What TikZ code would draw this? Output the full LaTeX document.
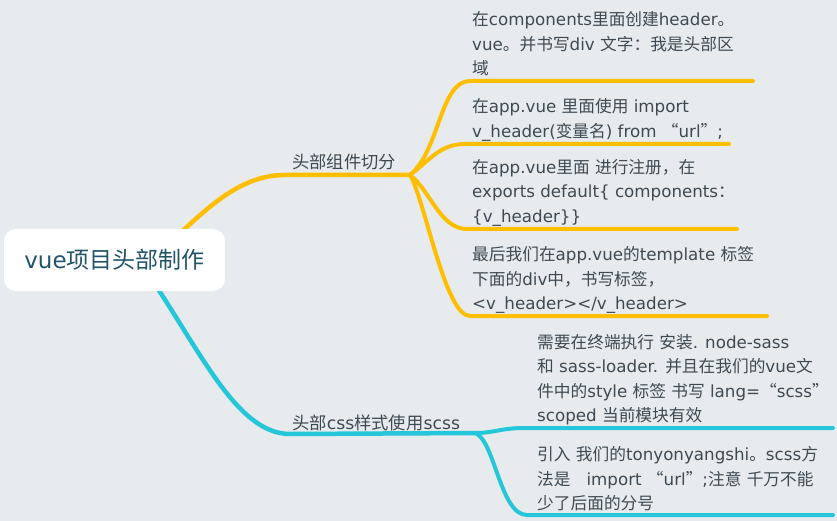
\documentclass[tikz,border=0pt]{standalone}
\usepackage{fontspec}
\setmainfont{DejaVu Sans}
\newfontfamily\cjkf{Noto Sans CJK SC}
\makeatletter
\count@="4E00
\loop \XeTeXcharclass\count@=1 \advance\count@ 1 \ifnum\count@<"A000 \repeat
\count@="3000
\loop \XeTeXcharclass\count@=1 \advance\count@ 1 \ifnum\count@<"3040 \repeat
\count@="FF00
\loop \XeTeXcharclass\count@=1 \advance\count@ 1 \ifnum\count@<"FFF0 \repeat
\XeTeXcharclass"201C=1
\XeTeXcharclass"201D=1
\makeatother
\XeTeXinterchartokenstate=1
\XeTeXinterchartoks 0 1 = {\begingroup\cjkf}
\XeTeXinterchartoks 4095 1 = {\begingroup\cjkf}
\XeTeXinterchartoks 1 0 = {\endgroup}
\XeTeXinterchartoks 1 4095 = {\endgroup}
\definecolor{bg}{RGB}{231,235,238}
\definecolor{ylw}{RGB}{255,190,0}
\definecolor{cyn}{RGB}{38,198,218}
\definecolor{txt}{RGB}{62,74,83}
\definecolor{roottxt}{RGB}{33,84,104}
\pgfdeclarelayer{bgfill}
\pgfdeclarelayer{lines}
\pgfsetlayers{bgfill,lines,main}
\begin{document}
\begin{tikzpicture}[x=1pt,y=-1pt,
  leaf/.style={anchor=west, inner sep=0pt, align=left, text=txt,
    font=\fontsize{16.7}{24.5}\selectfont},
  lbl/.style={anchor=west, inner sep=0pt, text=txt, font=\fontsize{17.3}{20}\selectfont},
  rootbox/.style={fill=white, rounded corners=12pt, minimum width=221pt,
    minimum height=62pt, inner sep=0pt, text=roottxt, font=\fontsize{23}{26}\selectfont},
  ybr/.style={draw=ylw, line width=4.5pt, line cap=round},
  ysub/.style={draw=ylw, line width=4pt, line cap=round},
  cbr/.style={draw=cyn, line width=4.5pt, line cap=round},
  csub/.style={draw=cyn, line width=4pt, line cap=round}]
\begin{pgfonlayer}{bgfill}
\fill[bg] (0,0) rectangle (837,521);
\end{pgfonlayer}
\useasboundingbox (0,0) rectangle (837,521);

% root
\node[rootbox] (root) at (114.5,260) {vue项目头部制作};

% main labels
\node[lbl] (b1) at (292,162) {头部组件切分};
\node[lbl] (b2) at (292,423) {头部css样式使用scss};

% yellow leaves
\node[leaf] (l1) at (472,44) {在components里面创建header。\\vue。并书写div 文字：我是头部区\\域};
\node[leaf] (l2) at (472,120) {在app.vue 里面使用 import\\v\_header(变量名) from “url”;};
\node[leaf] (l3) at (472,192.5) {在app.vue里面 进行注册，在\\exports default\{ components：\\\{v\_header\}\}};
\node[leaf] (l4) at (472,280) {最后我们在app.vue的template 标签\\下面的div中，书写标签，\\<v\_header></v\_header>};

% cyan leaves
\node[leaf] (m1) at (537,379.5) {需要在终端执行 安装. node-sass\\和 sass-loader. 并且在我们的vue文\\件中的style 标签 书写 lang=“scss”\\scoped 当前模块有效};
\node[leaf] (m2) at (537,479) {引入 我们的tonyonyangshi。scss方\\法是 \ \ import “url”;注意 千万不能\\少了后面的分号};

% coordinates
\coordinate (rs1) at (150,262);
\coordinate (rs2) at (140,262);
\coordinate (h1) at (285,175);
\coordinate (j1) at (410,175);
\coordinate (h2) at (290,434);
\coordinate (j2) at (475,433);
\coordinate (e1a) at (470,81);  \coordinate (e1b) at (753,81);
\coordinate (e2a) at (465,144); \coordinate (e2b) at (729,144);
\coordinate (e3a) at (467,229); \coordinate (e3b) at (737,229);
\coordinate (e4a) at (470,316); \coordinate (e4b) at (767,316);
\coordinate (f1a) at (525,428); \coordinate (f1b) at (833,428);
\coordinate (f2a) at (527,515); \coordinate (f2b) at (833,515);

\begin{pgfonlayer}{lines}
\draw[ybr] (rs1) .. controls (200,215) and (235,175) .. (h1) -- (j1);
\draw[ysub] (j1) .. controls (440,150) and (440,81) .. (e1a) -- (e1b);
\draw[ysub] (j1) .. controls (430,160) and (440,144) .. (e2a) -- (e2b);
\draw[ysub] (j1) .. controls (430,190) and (440,229) .. (e3a) -- (e3b);
\draw[ysub] (j1) .. controls (425,200) and (445,316) .. (e4a) -- (e4b);
\draw[cbr] (rs2) .. controls (198,345) and (235,434) .. (h2) -- (j2);
\draw[csub] (j2) .. controls (495,433) and (500,428) .. (f1a) -- (f1b);
\draw[csub] (j2) .. controls (495,440) and (500,515) .. (f2a) -- (f2b);
\end{pgfonlayer}
\end{tikzpicture}
\end{document}
